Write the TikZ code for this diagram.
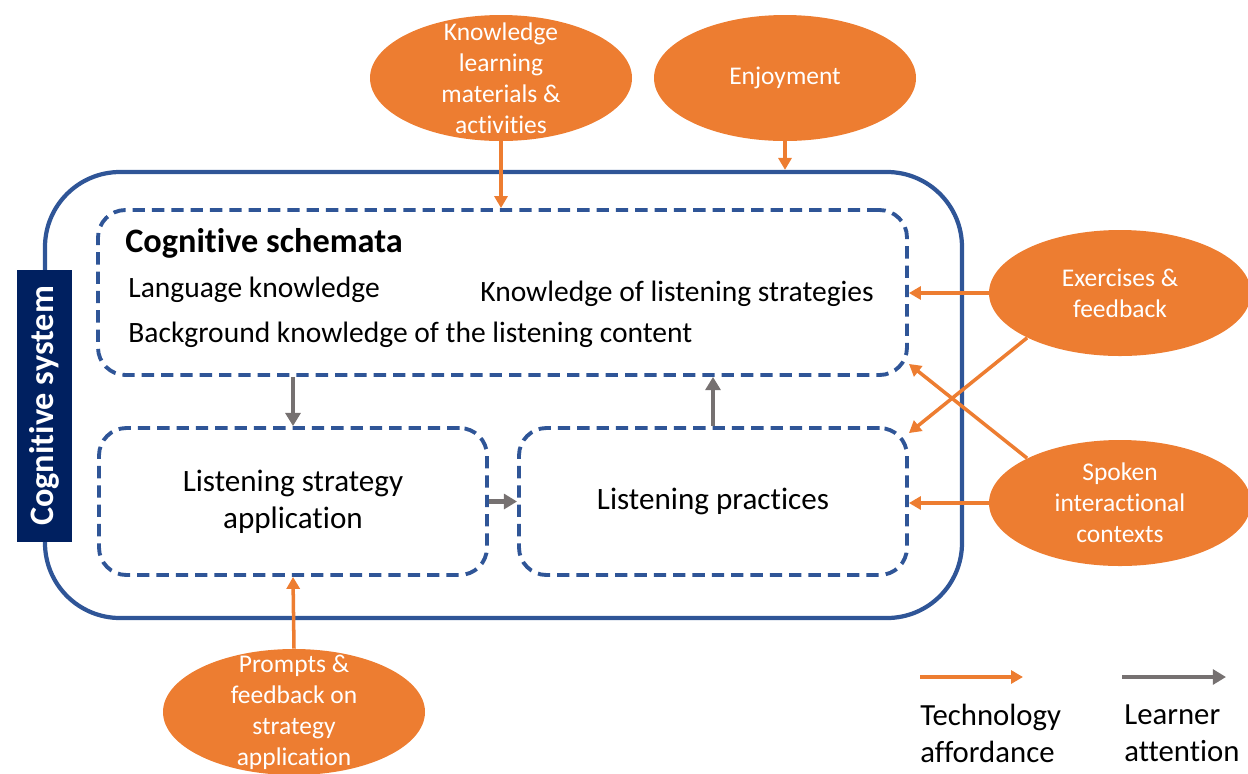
\documentclass[tikz,border=0pt]{standalone}
\usepackage{fontspec}
\setmainfont{Carlito}[Ligatures={NoCommon,NoRequired,NoContextual}, Contextuals=NoAlternate]
\usetikzlibrary{arrows.meta, calc, positioning, shapes.geometric}
\definecolor{csblue}{HTML}{2F5597}
\definecolor{csnavy}{HTML}{002060}
\definecolor{afforange}{HTML}{ED7D31}
\definecolor{attgray}{HTML}{767171}
\tikzset{
  every picture/.style={line join=round},
  % frame of the whole system, and the dashed parts inside it
  sysframe/.style={draw=csblue, line width=2.4pt, rounded corners=1.5cm, minimum width=18.34cm, minimum height=8.92cm, inner sep=0},
  part/.style={draw=csblue, line width=2.2pt, dash pattern=on 7pt off 4pt, rounded corners=0.55cm, inner sep=0},
  systag/.style={fill=csnavy, text=white, font=\fontsize{19.5}{23}\selectfont\bfseries, rotate=90, minimum width=5.44cm, minimum height=1.1cm, inner sep=0},
  % affordance bubbles (text set on top as its own node)
  bubble/.style={ellipse, fill=afforange, minimum width=5.24cm, minimum height=2.52cm, inner sep=0},
  bubbletext/.style={text=white, align=center, font=\fontsize{14.5}{17.6}\selectfont, inner sep=0},
  boxtext/.style={align=center, font=\fontsize{17.7}{21}\selectfont, inner sep=0},
  itemtext/.style={anchor=west, font=\fontsize{16.8}{20}\selectfont, inner sep=0},
  legendtext/.style={anchor=west, align=left, font=\fontsize{17.5}{21}\selectfont, inner sep=0},
  afford/.style={-{Triangle[length=6.8pt, width=7.4pt]}, afforange, line width=2pt},
  attend/.style={-{Triangle[length=7.5pt, width=8.5pt]}, attgray, line width=2.5pt},
}
\begin{document}
\begin{tikzpicture}
  \useasboundingbox (0,0) rectangle (24.96,-15.46);
  % system frame, tag on its left edge
  \node[sysframe] (system) at (10.07,-7.9) {};
  \node[systag] (systag) at (0.89,-8.12) {Cognitive system};
  % schemata and the two processes
  \node[part, minimum width=16.18cm, minimum height=3.3cm] (schemata) at (10.05,-5.85) {};
  \node[part, minimum width=7.76cm, minimum height=2.94cm] (strategy) at (5.86,-10.03) {};
  \node[part, minimum width=7.76cm, minimum height=2.94cm] (practice) at (14.26,-10.03) {};
  \node[itemtext, font=\fontsize{19.5}{23}\selectfont\bfseries] (schtitle) at (2.5,-4.86) {Cognitive schemata};
  \node[itemtext] (langknow) at (2.56,-5.8) {Language knowledge};
  \node[itemtext] (stratknow) at (9.6,-5.88) {Knowledge of listening strategies};
  \node[itemtext] (bgknow) at (2.56,-6.7) {Background knowledge of the listening content};
  \node[boxtext] (strattext) at (strategy) {Listening strategy\\application};
  \node[boxtext] (practext) at (practice) {Listening practices};
  % technology affordances
  \node[bubble] (knowmat) at (10.02,-1.56) {};
  \node[bubbletext] (knowmattext) at (knowmat) {Knowledge\\learning\\materials \&\\activities};
  \node[bubble] (enjoy) at (15.7,-1.56) {};
  \node[bubbletext] (enjoytext) at (enjoy) {Enjoyment};
  \node[bubble] (exercise) at (22.4,-5.86) {};
  \node[bubbletext] (exercisetext) at (exercise) {Exercises \&\\feedback};
  \node[bubble] (spoken) at (22.4,-10.06) {};
  \node[bubbletext] (spokentext) at (spoken) {Spoken\\interactional\\contexts};
  \node[bubble] (prompt) at (5.88,-14.24) {};
  \node[bubbletext] (prompttext) at (prompt) {Prompts \&\\feedback on\\strategy\\application};
  \draw[afford] (knowmat.south) -- (knowmat.south |- schemata.north);
  \draw[afford] (enjoy.south) -- (enjoy.south |- system.north);
  \draw[afford] (exercise.west) -- (exercise.west -| schemata.east);
  \draw[afford] (exercise.south west) -- ([yshift=-0.14cm]practice.north east);
  \draw[afford] (spoken.north west) -- ([yshift=0.26cm]schemata.south east);
  \draw[afford] (spoken.west) -- (spoken.west -| practice.east);
  \draw[afford] (prompt.north) -- (strategy.south);
  % learner attention
  \draw[attend] (strategy.north |- schemata.south) -- (strategy.north);
  \draw[attend] (strategy.east) -- (practice.west);
  \draw[attend] (practice.north) -- (practice.north |- schemata.south);
  % legend
  \coordinate (affA) at (18.4,-13.54);
  \coordinate (affB) at (20.46,-13.54);
  \draw[afford] (affA) -- (affB);
  \node[legendtext] (afflbl) at (18.4,-14.67) {Technology\\affordance};
  \coordinate (attA) at (22.44,-13.54);
  \coordinate (attB) at (24.52,-13.54);
  \draw[attend] (attA) -- (attB);
  \node[legendtext] (attlbl) at (22.48,-14.67) {Learner\\attention};
\end{tikzpicture}
\end{document}
